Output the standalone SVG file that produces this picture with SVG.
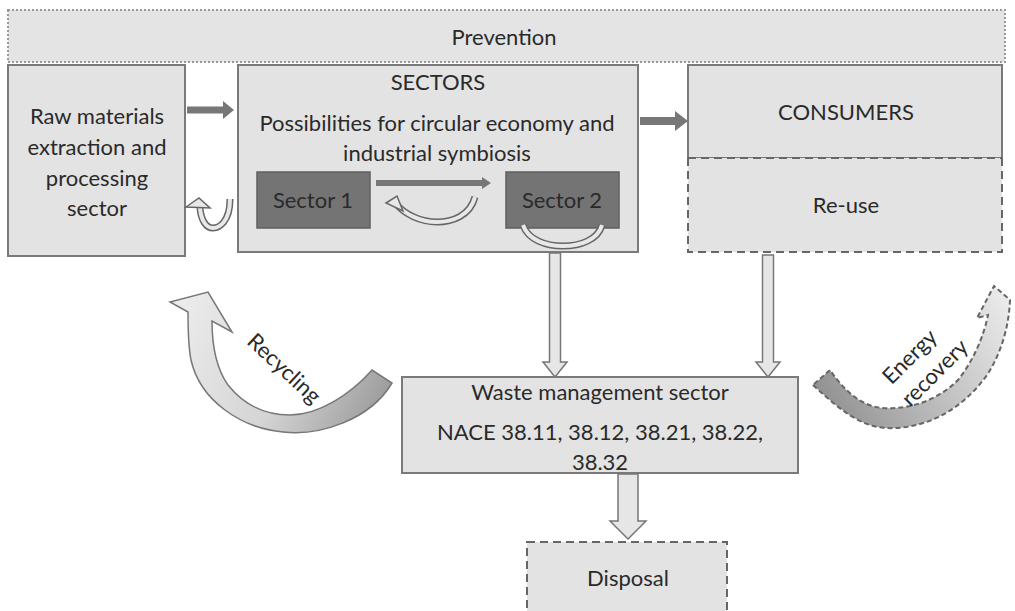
<svg xmlns="http://www.w3.org/2000/svg" width="1015" height="611" viewBox="0 0 1015 611">
  <defs>
    <style>
      .box { fill: #e3e3e3; stroke: #7a7a7a; stroke-width: 2; }
      .dash { fill: #e3e3e3; stroke: #666; stroke-width: 2; stroke-dasharray: 8 5; }
      .dark { fill: #747474; stroke: #5f5f5f; stroke-width: 1.5; }
      .lbl { font-family: Lato, "Liberation Sans", sans-serif; font-size: 22px; fill: #2a2a2a; text-anchor: middle; }
      .solid { fill: #777; }
      .hollow { fill: #e6e6e6; stroke: #777; stroke-width: 1.5; stroke-linejoin: miter; }
      .bandO { fill: none; stroke: #666; stroke-width: 7; stroke-linecap: butt; }
      .bandI { fill: none; stroke: #e8e8e8; stroke-width: 4; stroke-linecap: butt; }
    </style>
    <linearGradient id="recGrad" x1="180" y1="300" x2="390" y2="400" gradientUnits="userSpaceOnUse">
      <stop offset="0" stop-color="#ececec"/>
      <stop offset="0.55" stop-color="#d4d4d4"/>
      <stop offset="1" stop-color="#9a9a9a"/>
    </linearGradient>
    <linearGradient id="enGrad" x1="815" y1="400" x2="1005" y2="300" gradientUnits="userSpaceOnUse">
      <stop offset="0" stop-color="#8f8f8f"/>
      <stop offset="0.45" stop-color="#b8b8b8"/>
      <stop offset="1" stop-color="#eaeaea"/>
    </linearGradient>
  </defs>

  <rect width="1015" height="611" fill="#ffffff"/>

  <!-- Prevention band across the top -->
  <g id="prevention">
    <rect x="8" y="10" width="997" height="52" fill="#e4e4e4" stroke="#9a9a9a" stroke-width="2" stroke-dasharray="2 2"/>
    <text class="lbl" x="504" y="45">Prevention</text>
  </g>

  <!-- Raw materials -->
  <g id="raw">
    <rect class="box" x="8" y="65" width="177" height="191"/>
    <text class="lbl" x="97" y="124">Raw materials</text>
    <text class="lbl" x="97" y="155">extraction and</text>
    <text class="lbl" x="97" y="186">processing</text>
    <text class="lbl" x="97" y="216">sector</text>
  </g>

  <!-- Sectors -->
  <g id="sectors">
    <rect class="box" x="238" y="65" width="400" height="187"/>
    <text class="lbl" x="438" y="90">SECTORS</text>
    <text class="lbl" x="437" y="131">Possibilities for circular economy and</text>
    <text class="lbl" x="437" y="161">industrial symbiosis</text>
  </g>
  <g id="sector1">
    <rect class="dark" x="257" y="172" width="113" height="56"/>
    <text class="lbl" x="313" y="208">Sector 1</text>
  </g>
  <g id="sector2">
    <rect class="dark" x="506" y="172" width="113" height="56"/>
    <text class="lbl" x="562" y="208">Sector 2</text>
  </g>

  <!-- Consumers and re-use -->
  <g id="consumers">
    <rect class="box" x="688" y="65" width="314" height="93"/>
    <text class="lbl" x="846" y="120">CONSUMERS</text>
  </g>
  <g id="reuse">
    <path d="M688 158 V252 H1002 V158" class="dash"/>
    <line x1="688" y1="158" x2="1002" y2="158" stroke="#666" stroke-width="2" stroke-dasharray="8 5"/>
    <text class="lbl" x="846" y="213">Re-use</text>
  </g>

  <!-- Waste management -->
  <g id="waste">
    <rect class="box" x="402" y="377" width="396" height="96"/>
    <text class="lbl" x="600" y="400">Waste management sector</text>
    <text class="lbl" x="600" y="440">NACE 38.11, 38.12, 38.21, 38.22,</text>
    <text class="lbl" x="600" y="470">38.32</text>
  </g>

  <!-- Disposal -->
  <g id="disposal">
    <rect class="dash" x="527" y="542" width="200" height="80"/>
    <text class="lbl" x="628" y="586">Disposal</text>
  </g>

  <!-- Connectors -->
  <g id="connectors">
    <!-- raw -> sectors -->
    <path class="solid" d="M187 106.5 H223 V101 L234 110 L223 119 V113.5 H187 Z"/>
    <!-- sectors -> consumers -->
    <path class="solid" d="M640 117 H675 V111 L688 121 L675 131 V125 H640 Z"/>
    <!-- sector 1 -> sector 2 -->
    <path class="solid" d="M376 180 H482 V177 L491 183 L482 189 V186 H376 Z"/>

    <!-- sectors -> waste -->
    <path class="hollow" d="M549.5 253 H560.5 V362 H567 L555 377 L543 362 H549.5 Z"/>
    <!-- re-use -> waste -->
    <path class="hollow" d="M762.5 255 H773.5 V362 H780 L768 377 L756 362 H762.5 Z"/>
    <!-- waste -> disposal -->
    <path class="hollow" d="M618 474 H638 V521 H646 L628 539 L610 521 H618 Z"/>

    <!-- small loop: sectors back to raw materials -->
    <path class="bandO" d="M230 199 C230 222 219 228 213 228 C206 228 201 220 200 208"/>
    <path class="bandI" d="M230 199 C230 222 219 228 213 228 C206 228 201 220 200 208"/>
    <path d="M186 207 L199 198 L210 208 Z" fill="#e8e8e8" stroke="#666" stroke-width="1.5"/>

    <!-- loop between sector 1 and sector 2 -->
    <path class="bandO" d="M475 197 C470 216 452 222 437 222 C420 222 405 214 397 205"/>
    <path class="bandI" d="M475 197 C470 216 452 222 437 222 C420 222 405 214 397 205"/>
    <path d="M386 203 L397 196 L403 211 Z" fill="#e8e8e8" stroke="#666" stroke-width="1.5"/>

    <!-- loop under sector 2 -->
    <path class="bandO" d="M523 225 C528 240 546 246 563 246 C580 246 598 240 602 225"/>
    <path class="bandI" d="M523 225 C528 240 546 246 563 246 C580 246 598 240 602 225"/>

    <!-- recycling arrow -->
    <path d="M392 383 C370 420 320 436 283 432 C240 428 200 400 191 360 C188 345 188 330 188 312 L170 302 L208 292 L232 332 L212 321 C212 345 216 368 228 385 C244 405 266 415 290 415 C318 415 350 395 372 370 Z"
          fill="url(#recGrad)" stroke="#777" stroke-width="1.5" stroke-linejoin="miter"/>
    <text class="lbl" x="0" y="0" transform="translate(279 374) rotate(43)">Recycling</text>

    <!-- energy recovery arrow -->
    <path d="M813 385 C840 410 860 426 885 428 C925 430 962 410 987 375 C1002 352 1009 325 1010 300 L994 286 L977 318 L988 315 C984 335 974 360 958 380 C938 400 910 410 882 408 C862 406 845 392 830 370 Z"
          fill="url(#enGrad)" stroke="#666" stroke-width="2" stroke-dasharray="5 3" stroke-linejoin="miter"/>
    <text class="lbl" x="0" y="0" transform="translate(915 362) rotate(-45)">Energy</text>
    <text class="lbl" x="0" y="0" transform="translate(940 378) rotate(-45)">recovery</text>
  </g>
</svg>
